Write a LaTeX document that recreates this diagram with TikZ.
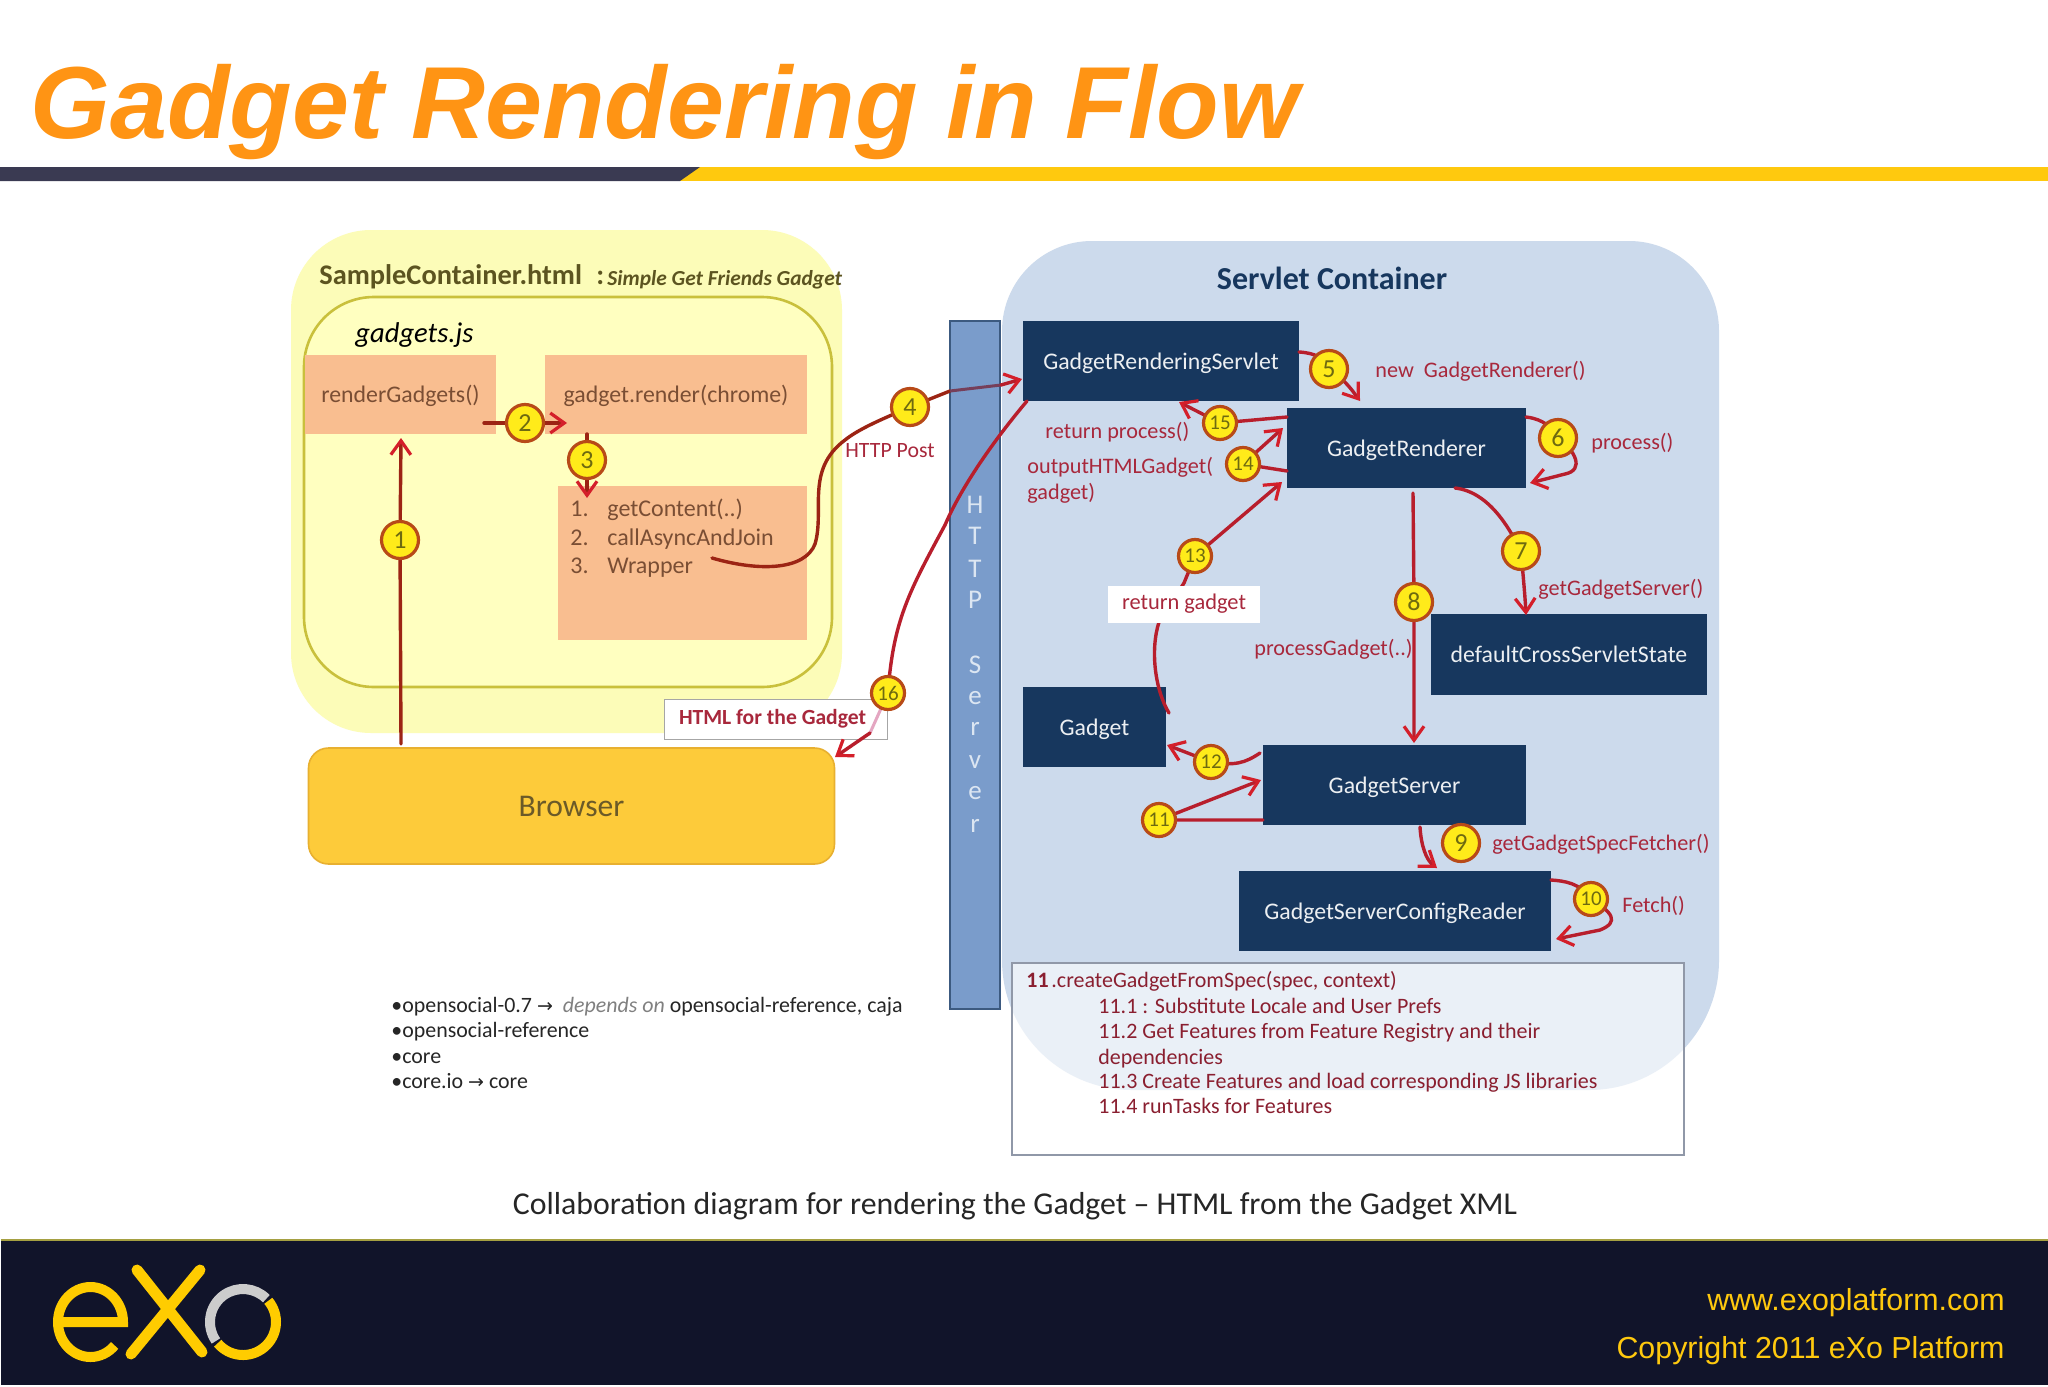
\documentclass[tikz,border=0pt]{standalone}
\usepackage{fontspec}
\setmainfont{Carlito}
\newfontfamily\arialf{Liberation Sans}
\usetikzlibrary{arrows.meta,calc}
\pgfdeclarelayer{fg}
\pgfsetlayers{main,fg}
\definecolor{navy}{HTML}{17375E}
\definecolor{peach}{HTML}{F9BE90}
\definecolor{peachtxt}{HTML}{7A4E34}
\definecolor{lab}{HTML}{A8283C}
\definecolor{deeplab}{HTML}{8A1F30}
\definecolor{flow}{HTML}{B81E2C}
\definecolor{flowdark}{HTML}{9C2414}
\definecolor{tipred}{HTML}{D41F2A}
\definecolor{logoY}{HTML}{FFCC00}
\definecolor{headorange}{HTML}{FF9414}
\definecolor{baryellow}{HTML}{FFC90E}
\definecolor{bardark}{HTML}{3A3A52}
\definecolor{footnavy}{HTML}{11142A}
\definecolor{conblue}{HTML}{CCDAEC}
\definecolor{httpblue}{HTML}{7A9CCB}
\definecolor{httpedge}{HTML}{3C5A80}
\definecolor{brfill}{HTML}{FDCB3A}
\definecolor{bredge}{HTML}{E8B030}
\definecolor{yelout}{HTML}{FCFCB8}
\definecolor{yelin}{HTML}{FFFFC0}
\definecolor{yeledge}{HTML}{C9C03C}
\definecolor{oltxt}{HTML}{5C5420}
\definecolor{brtxt}{HTML}{6B5A28}
\definecolor{numedge}{HTML}{B84A18}
\definecolor{numfill}{HTML}{FFEB1A}
\definecolor{numtxt}{HTML}{6E6A10}
\definecolor{boxedge}{HTML}{9098A8}
\definecolor{srvtxt}{HTML}{DCE6F2}
\tikzset{
  x=0.5pt,y=-0.5pt,
  fs/.style={font=\fontsize{#1}{#1}\selectfont},
  navybox/.style={fill=navy,text=white!92!navy,inner sep=0pt,fs=11.9,text height=8pt,text depth=0pt},
  peachbox/.style={fill=peach,text=peachtxt,inner sep=0pt,fs=11.9,text height=8pt,text depth=0pt},
  listitem/.style={text=peachtxt,inner sep=0pt,fs=12,anchor=mid west,yshift=-1.6pt},
  num/.style={circle,draw=numedge,line width=1.6pt,fill=numfill,text=numtxt,inner sep=0pt,minimum size=18.5pt,fs=13},
  smallnum/.style={num,minimum size=16.5pt,fs=10.5},
  lbl/.style={text=lab,inner sep=0pt,fs=11.1,anchor=mid west,yshift=-1.1pt},
  cal/.style={text=deeplab,inner sep=0pt,fs=11,anchor=mid west,yshift=-0.6pt},
  bul/.style={text=black!85,inner sep=0pt,fs=10.95,anchor=mid west,yshift=-0.5pt},
  flowline/.style={draw=flow,line width=1.7pt,line cap=round},
  tipline/.style={flowline,-{Straight Barb[length=7pt,width=10pt,line width=1.6pt,color=tipred]}},
  darktip/.style={tipline,draw=flowdark},
  srv/.style={text=srvtxt,inner sep=0pt,fs=13.5},
}
\begin{document}
\begin{tikzpicture}
\useasboundingbox (0,0) rectangle (2048,1386);
\fill[white] (0,0) rectangle (2048,1386);
% header
\node[inner sep=0pt,anchor=base west,text=headorange,font=\arialf\bfseries\itshape\fontsize{51.2}{52}\selectfont] (title) at (30,138) {Gadget Rendering in Flow};
\fill[baryellow] (680,167) rectangle (2048,181);
\fill[bardark] (0,167) -- (700,167) -- (680,181) -- (0,181) -- cycle;
% footer
\fill[footnavy] (1,1240) rectangle (2048,1385);
\draw[draw=yellow!60!black,line width=1pt] (1,1240) -- (2048,1240);
\node[inner sep=0pt,anchor=mid east,text=baryellow,font=\arialf\fontsize{15.2}{16}\selectfont] (www) at (2005,1306) {www.exoplatform.com};
\node[inner sep=0pt,anchor=mid east,text=baryellow,font=\arialf\fontsize{15.2}{16}\selectfont] (copy) at (2005,1354) {Copyright 2011 eXo Platform};
% logo
\draw[logoY,line width=5pt,line cap=butt] (58,1322) -- (123,1322) arc[start angle=0,end angle=318,x radius=16.25pt,y radius=17.5pt];
\draw[logoY,line width=5.5pt,line cap=round] (137,1270) -- (202,1352);
\draw[logoY,line width=5.5pt,line cap=round] (200,1270) -- (131,1354);
\draw[black!20,line width=5pt] ($(243,1322)+(215:16.5pt)$) arc[start angle=215,end angle=45,radius=16.5pt];
\draw[logoY,line width=5pt] ($(243,1322)+(40:16.5pt)$) arc[start angle=40,end angle=-140,radius=16.5pt];
% containers
\fill[yelout,rounded corners=40pt] (291,230) rectangle (842,733);
\draw[draw=yeledge,fill=yelin,line width=1.3pt,rounded corners=35pt] (304,297) rectangle (832,687);
\fill[conblue] (1002,330)
  [rounded corners=45pt] -- (1002,241) -- (1719,241)
  [rounded corners=65pt] -- (1719,1090) -- (1002,1090) [sharp corners] -- cycle;
\node[inner sep=0pt,anchor=mid west,text=oltxt,font=\bfseries\fontsize{14.2}{15}\selectfont] (sctitle) at (319,280) {SampleContainer.html};
\node[inner sep=0pt,anchor=mid west,text=oltxt,font=\bfseries\fontsize{14.2}{15}\selectfont] (sccolon) at (596,280) {:};
\node[inner sep=0pt,anchor=mid west,text=oltxt,font=\bfseries\itshape\fontsize{10.7}{11}\selectfont] (scsub) at (607,281) {Simple Get Friends Gadget};
\node[inner sep=0pt,anchor=mid west,font=\itshape\fontsize{14.3}{15}\selectfont] (gjs) at (355,338) {gadgets.js};
\node[inner sep=0pt,text=navy,font=\bfseries\fontsize{16}{16}\selectfont] (svt) at (1332,278) {Servlet Container};
% peach
\node[peachbox,minimum width=95.5pt,minimum height=39.5pt] (rg) at (400.5,394.5) {renderGadgets()};
\node[peachbox,minimum width=131pt,minimum height=39.5pt] (gr) at (676,394.5) {gadget.render(chrome)};
\fill[peach] (558,486) rectangle (807,640);
\node[listitem] (l1n) at (570,509) {1.};
\node[listitem] (l2n) at (570,538) {2.};
\node[listitem] (l3n) at (570,566) {3.};
\node[listitem] (l1) at (607,509) {getContent(..)};
\node[listitem] (l2) at (607,538) {callAsyncAndJoin};
\node[listitem] (l3) at (607,566) {Wrapper};
% browser
\node[rounded corners=10pt,fill=brfill,draw=bredge,line width=0.8pt,minimum width=263pt,minimum height=58pt,inner sep=0pt,text=brtxt,fs=15.8,text height=10pt,text depth=0pt] (browser) at (571.5,806) {Browser};
% http server
\fill[httpblue,draw=httpedge,line width=0.8pt] (950,321) rectangle (1000,1009);
\foreach \ch/\yy/\nm in {H/505/a,T/536/b,T/569/c,P/600/d,S/665/e,e/698/f,r/729/g,v/762/h,e/793/i,r/826/j}
  \node[srv] (http\nm) at (975,\yy) {\ch};
% navy boxes
\node[navybox,minimum width=138pt,minimum height=40pt] (grs) at (1161,361) {GadgetRenderingServlet};
\node[navybox,minimum width=119.5pt,minimum height=40pt] (rend) at (1406.5,448) {GadgetRenderer};
\node[navybox,minimum width=138pt,minimum height=40.5pt] (dcs) at (1569,654.5) {defaultCrossServletState};
\node[navybox,minimum width=71.5pt,minimum height=40pt] (gad) at (1094.5,727) {Gadget};
\node[navybox,minimum width=131.5pt,minimum height=40pt] (gs) at (1394.5,785) {GadgetServer};
\node[navybox,minimum width=156pt,minimum height=40pt] (cfg) at (1395,911) {GadgetServerConfigReader};
% HTML label
\node[draw=black!35,fill=white,line width=0.5pt,minimum width=111.5pt,minimum height=20pt,inner sep=0pt,text=lab,font=\bfseries\fontsize{10.8}{11}\selectfont] (html) at (775.5,719) {\hspace{-3pt}HTML for the Gadget\hspace{3pt}};
\node[inner sep=0pt,text=lab,fs=10.9] (post) at (890,451) {HTTP Post};
% info box
\fill[white,fill opacity=0.6] (1012,963) rectangle (1684,1155);
\draw[boxedge,line width=0.6pt] (1012,963) rectangle (1684,1155);
\node[cal,font=\bfseries\fontsize{11}{11}\selectfont] (i11) at (1026,982) {11};
\node[cal] (i0) at (1051,982) {.createGadgetFromSpec(spec, context)};
\node[cal] (i1) at (1098,1008) {11.1 : Substitute Locale and User Prefs};
\node[cal] (i2) at (1098,1033) {11.2 Get Features from Feature Registry and their};
\node[cal] (i3) at (1098,1059) {dependencies};
\node[cal] (i4) at (1098,1083) {11.3 Create Features and load corresponding JS libraries};
\node[cal] (i5) at (1098,1108) {11.4 runTasks for Features};
% labels
\node[lbl] (lnew) at (1375,371) {new\ \ GadgetRenderer()};
\node[lbl] (lproc) at (1591,443) {process()};
\node[lbl] (lret) at (1045,432) {return process()};
\node[lbl] (lout) at (1027,467) {outputHTMLGadget(};
\node[lbl] (lout2) at (1027,493) {gadget)};
\node[lbl] (lpg) at (1254,649) {processGadget(..)};
\node[lbl] (lggs) at (1538,589) {getGadgetServer()};
\node[lbl] (lfet) at (1492,844) {getGadgetSpecFetcher()};
\node[lbl] (lf) at (1622,906) {Fetch()};
% bullets
\node[bul] (b1) at (391,1007) {•opensocial-0.7 {\fontspec{DejaVu Sans}\fontsize{9.5}{9.5}\selectfont→}\ \ \textcolor{black!50}{\textit{depends on}} opensocial-reference, caja};
\node[bul] (b2) at (391,1032) {•opensocial-reference};
\node[bul] (b3) at (391,1058) {•core};
\node[bul] (b4) at (391,1083) {•core.io {\fontspec{DejaVu Sans}\fontsize{9.5}{9.5}\selectfont→} core};
\node[inner sep=0pt,text=black!85,fs=15.9] (cap) at (1015,1206) {Collaboration diagram for rendering the Gadget – HTML from the Gadget XML};
% numbered circles
\begin{pgfonlayer}{fg}
\node[num] (n1) at (400,540) {1};
\node[num] (n2) at (525,423) {2};
\node[num] (n3) at (587,460) {3};
\node[num] (n4) at (910,407) {4};
\node[num] (n5) at (1329,369) {5};
\node[num] (n6) at (1558,438) {6};
\node[num] (n7) at (1521,551) {7};
\node[num] (n8) at (1414,602) {8};
\node[num] (n9) at (1461,843) {9};
\node[smallnum] (n10) at (1591,899) {10};
\node[smallnum] (n11) at (1159,820) {11};
\node[smallnum] (n12) at (1211,762) {12};
\node[smallnum] (n13) at (1195,556) {13};
\node[smallnum] (n14) at (1243,464) {14};
\node[smallnum] (n15) at (1220,423) {15};
\node[smallnum] (n16) at (888,693) {16};
\node[fill=white,minimum width=76pt,minimum height=18.5pt,inner sep=0pt,text=lab,fs=11.2] (lgad) at (1184,604) {return gadget};
\end{pgfonlayer}
% connector ends
\coordinate (s1) at (401,744); \coordinate (e1) at (401,438);
\coordinate (s2) at (484,423); \coordinate (e2) at (567,423);
\coordinate (s3) at (587,434); \coordinate (e3) at (587,498);
\coordinate (s4) at (712,558); \coordinate (m4) at (950,391); \coordinate (m4b) at (1001,385); \coordinate (e4) at (1022,379);
\coordinate (s16) at (1027,401); \coordinate (m16) at (870,733); \coordinate (e16) at (835,757);
\coordinate (s5) at (1299,352); \coordinate (e5) at (1360,401);
\coordinate (s6) at (1526,417); \coordinate (e6) at (1530,483);
\coordinate (s7) at (1455,488); \coordinate (e7) at (1526,615);
\coordinate (s8) at (1413,493); \coordinate (e8) at (1414,743);
\coordinate (s9) at (1420,827); \coordinate (e9) at (1437,868);
\coordinate (s10) at (1551,880); \coordinate (e10) at (1556,939);
\coordinate (s11) at (1263,820); \coordinate (e11) at (1261,780);
\coordinate (s12) at (1260,753); \coordinate (e12) at (1167,745);
\coordinate (s13) at (1169,713); \coordinate (e13) at (1282,482);
\coordinate (s14) at (1287,471); \coordinate (e14) at (1283,428);
\coordinate (s15) at (1287,417); \coordinate (e15) at (1179,402);
% connectors
\draw[darktip] (s1) -- (n1.center) -- (e1);
\draw[darktip] (s2) -- (n2.center) -- (e2);
\draw[darktip] (s3) -- (n3.center) -- (e3);
\draw[flowline,draw=flowdark] (s4) .. controls (760,572) and (805,570) .. (815,544)
   .. controls (825,510) and (805,470) .. (845,440)
   .. controls (860,428) and (885,418) .. (n4.center) -- (m4);
\draw[draw=httpedge!70!red,line width=1.5pt] (m4) -- (m4b);
\draw[tipline] (m4b) -- (e4);
\draw[flowline] (s16) .. controls (990,445) and (960,490) .. (945,525)
   .. controls (910,590) and (893,620) .. (n16.center);
\draw[draw=blue!30!red!35!white,line width=1.5pt] (n16.center) -- (m16);
\draw[tipline] (m16) -- (e16);
\draw[tipline] (s5) .. controls (1315,353) and (1325,358) .. (n5.center) .. controls (1345,380) and (1352,390) .. (e5);
\draw[tipline] (s6) .. controls (1535,418) and (1550,422) .. (n6.center) .. controls (1575,450) and (1585,470) .. (1565,474) -- (e6);
\draw[tipline] (s7) .. controls (1490,492) and (1510,530) .. (n7.center) .. controls (1523,575) and (1525,595) .. (e7);
\draw[tipline] (s8) -- (n8.center) -- (e8);
\draw[tipline] (s9) .. controls (1421,845) and (1426,860) .. (e9);
\draw[tipline] (s10) .. controls (1565,881) and (1580,883) .. (n10.center) .. controls (1612,912) and (1620,922) .. (1600,930) -- (e10);
\draw[tipline] (s11) -- (n11.center) -- (e11);
\draw[tipline] (s12) .. controls (1245,763) and (1235,766) .. (n12.center) -- (e12);
\draw[flowline] (s13) .. controls (1155,690) and (1150,650) .. (1159,622) -- (1184,583) -- (n13.center);
\draw[tipline] (n13.center) -- (e13);
\draw[tipline] (s14) -- (n14.center) -- (e14);
\draw[tipline] (s15) -- (n15.center) -- (e15);
\end{tikzpicture}
\end{document}
